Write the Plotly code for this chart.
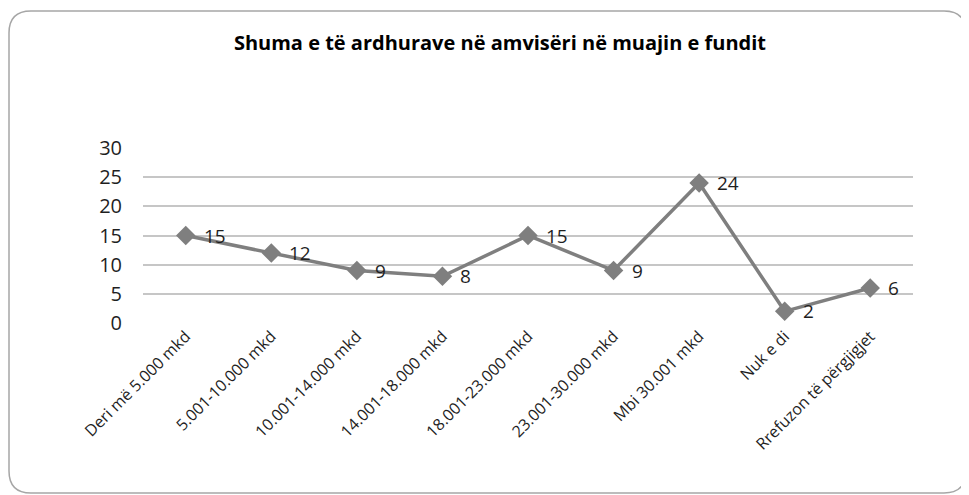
import plotly.graph_objects as go

categories = ["Deri më 5.000 mkd", "5.001-10.000 mkd", "10.001-14.000 mkd",
              "14.001-18.000 mkd", "18.001-23.000 mkd", "23.001-30.000 mkd",
              "Mbi 30.001 mkd", "Nuk e di", "Rrefuzon të përgjigjet"]
values = [15, 12, 9, 8, 15, 9, 24, 2, 6]
y_ticks = [0, 5, 10, 15, 20, 25, 30]
title_text = "Shuma e të ardhurave në amvisëri në muajin e fundit"

OFF = 8  # page body margin
W, H = 969 - OFF, 495 - OFF
L, R, T, B = 143 - OFF, 56, 148 - OFF, 172
PW, PH = W - L - R, H - T - B

def px(x):
    return (x - OFF - L) / PW

def py(y):
    return (H - B - (y - OFF)) / PH

fig = go.Figure()
fig.add_trace(go.Scatter(
    x=categories, y=values, mode="lines+markers",
    line=dict(color="#7f7f7f", width=3.5),
    marker=dict(symbol="diamond", size=15, color="#7f7f7f"),
    cliponaxis=False, showlegend=False,
))

for c, v in zip(categories, values):
    fig.add_annotation(x=c, y=v, text=str(v), showarrow=False,
                       xanchor="left", yanchor="middle", xshift=16,
                       font=dict(family="Open Sans", size=19, color="#1f1f1f"))

# rounded border
x0, x1, y0, y1, r = 9, 966, 11, 493, 22
path = (f"M {px(x0)},{py(y0 + r)} Q {px(x0)},{py(y0)} {px(x0 + r)},{py(y0)} "
        f"L {px(x1 - r)},{py(y0)} Q {px(x1)},{py(y0)} {px(x1)},{py(y0 + r)} "
        f"L {px(x1)},{py(y1 - r)} Q {px(x1)},{py(y1)} {px(x1 - r)},{py(y1)} "
        f"L {px(x0 + r)},{py(y1)} Q {px(x0)},{py(y1)} {px(x0)},{py(y1 - r)} Z")
fig.add_shape(type="path", path=path, xref="paper", yref="paper",
              line=dict(color="#a6a6a6", width=1.5), layer="below")

fig.update_layout(
    width=W, height=H,
    margin=dict(l=L, r=R, t=T, b=B),
    paper_bgcolor="white", plot_bgcolor="white",
    title=dict(text="<b>" + title_text + "</b>", x=(500 - OFF) / W, xanchor="center",
               y=1 - (43 - OFF) / H, yanchor="middle",
               font=dict(family="Open Sans", size=20, color="#000000")),
    xaxis=dict(type="category", showgrid=False, showline=False, ticks="",
               tickangle=-45, tickfont=dict(family="Open Sans", size=16, color="#1f1f1f"),
               range=[-0.5, len(categories) - 0.5]),
    yaxis=dict(range=[0, 30], tickvals=y_ticks, showgrid=True,
               gridcolor="#c6c6c6", gridwidth=1.5, zeroline=False,
               tickfont=dict(family="Open Sans", size=20, color="#1f1f1f"),
               ticklabelstandoff=20),
)

fig.write_html("out.html")
